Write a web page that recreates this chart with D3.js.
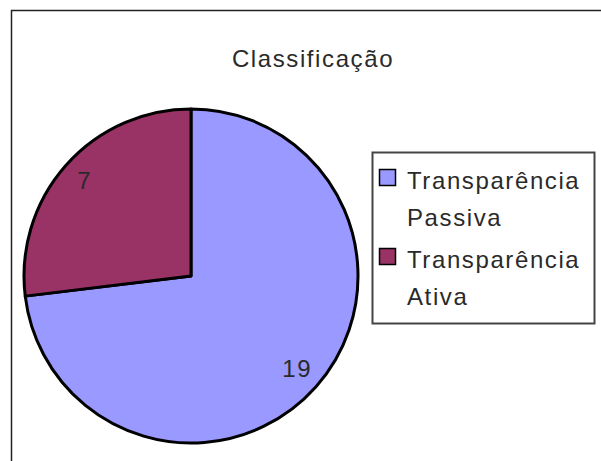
<!DOCTYPE html>
<html>
<head>
<meta charset="utf-8">
<script src="https://cdn.jsdelivr.net/npm/d3@7"></script>
<style>
  body { margin: 0; background: #fff; }
  text { font-family: "Liberation Sans", Arial, sans-serif; fill: #2a2a2a; letter-spacing: 1.6px; }
</style>
</head>
<body>
<script>
    var categories = ["Transparência Passiva", "Transparência Ativa"];
    var values = [19, 7];
    var colors = ["#9999ff", "#993366"];
    var title = "Classificação";

    var width = 601, height = 461;
    var cx = 191, cy = 276, radius = 167;

    var svg = d3.select("body").append("svg")
      .attr("width", width)
      .attr("height", height);

    //outer chart frame (runs off the right and bottom)
    svg.append("rect")
      .attr("x", 11.5).attr("y", 10.5)
      .attr("width", 640).attr("height", 500)
      .attr("fill", "none")
      .attr("stroke", "#222")
      .attr("stroke-width", 1.5);

    //title
    svg.append("text")
      .attr("x", 313).attr("y", 67)
      .attr("text-anchor", "middle")
      .style("font-size", "24px")
      .text(title);

    var data = categories.map(function(c, i) {
      return {name: c, value: values[i], color: colors[i]};
    });

    var pie = d3.pie()
      .sort(null)
      .value(function(d) { return d.value; });

    var arc = d3.arc().innerRadius(0).outerRadius(radius);
    var labelArc = d3.arc().innerRadius(radius * 0.85).outerRadius(radius * 0.85);

    var g = svg.append("g")
      .attr("transform", "translate(" + cx + "," + cy + ")");

    var arcs = pie(data);

    g.selectAll("path")
      .data(arcs)
      .enter().append("path")
      .attr("d", arc)
      .attr("fill", function(d) { return d.data.color; })
      .attr("stroke", "#000")
      .attr("stroke-width", 3)
      .attr("stroke-linejoin", "round");

    g.selectAll("text.lbl")
      .data(arcs)
      .enter().append("text")
      .attr("class", "lbl")
      .attr("transform", function(d) { return "translate(" + labelArc.centroid(d) + ")"; })
      .attr("text-anchor", "middle")
      .attr("dy", "0.3em")
      .style("font-size", "24px")
      .text(function(d) { return d.data.value; });

    //legend
    var legend = svg.append("g");
    legend.append("rect")
      .attr("x", 372.5).attr("y", 152.5)
      .attr("width", 222).attr("height", 171)
      .attr("fill", "#fff")
      .attr("stroke", "#444")
      .attr("stroke-width", 2);

    var item = legend.selectAll("g.item")
      .data(data)
      .enter().append("g")
      .attr("class", "item")
      .attr("transform", function(d, i) { return "translate(0," + (i * 79) + ")"; });

    item.append("rect")
      .attr("x", 379.5).attr("y", 169.5)
      .attr("width", 16).attr("height", 16)
      .attr("fill", function(d) { return d.color; })
      .attr("stroke", "#000")
      .attr("stroke-width", 1.5);

    var txt = item.append("text")
      .attr("x", 407).attr("y", 189)
      .style("font-size", "24px");
    txt.selectAll("tspan")
      .data(function(d) { return d.name.split(" "); })
      .enter().append("tspan")
      .attr("x", 407)
      .attr("dy", function(d, i) { return i === 0 ? 0 : 37; })
      .text(function(d) { return d; });
</script>
</body>
</html>
